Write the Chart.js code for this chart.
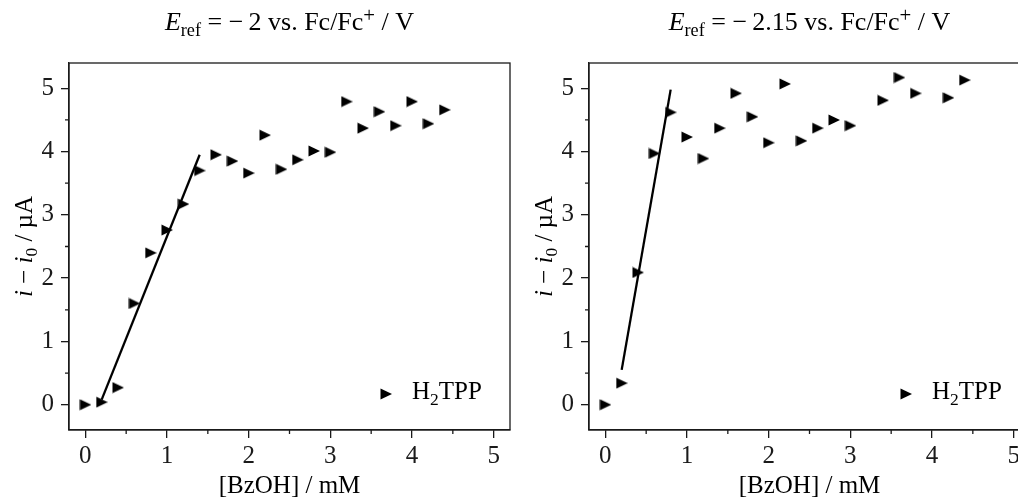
<!DOCTYPE html>
<html>
<head>
<meta charset="utf-8">
<script src="https://cdn.jsdelivr.net/npm/chart.js@4.4.0/dist/chart.umd.min.js"></script>
<style>
	html, body { margin: 0; padding: 0; background: #fff; overflow: hidden; }
	body { width: 1018px; height: 501px; position: relative; }
	.panel { position: absolute; top: 0; width: 520px; height: 501px; }
</style>
</head>
<body>
<div class="panel" style="left:0"><canvas id="chartLeft"></canvas></div>
<div class="panel" style="left:520px"><canvas id="chartRight"></canvas></div>
<script>
//[BzOH] in mM on the x axis, i - i0 in uA on the y axis
let concLeft = [0, 0.2, 0.4, 0.6, 0.8, 1.0, 1.2, 1.4, 1.6, 1.8, 2.0, 2.2, 2.4, 2.6, 2.8, 3.0, 3.2, 3.4, 3.6, 3.8, 4.0, 4.2, 4.4]
let currentLeft = [0, 0.04, 0.27, 1.6, 2.4, 2.76, 3.17, 3.7, 3.95, 3.85, 3.66, 4.26, 3.72, 3.87, 4.01, 3.99, 4.79, 4.37, 4.63, 4.41, 4.79, 4.44, 4.66]
let concRight = [0, 0.2, 0.4, 0.6, 0.8, 1.0, 1.2, 1.4, 1.6, 1.8, 2.0, 2.2, 2.4, 2.6, 2.8, 3.0, 3.4, 3.6, 3.8, 4.2, 4.4]
let currentRight = [0, 0.34, 2.09, 3.97, 4.62, 4.23, 3.89, 4.37, 4.92, 4.55, 4.14, 5.07, 4.17, 4.37, 4.5, 4.41, 4.81, 5.17, 4.92, 4.85, 5.13]

//linear fits (end points)
let fitLeftX = [0.2, 1.4]
let fitLeftY = [0.08, 3.95]
let fitRightX = [0.2, 0.8]
let fitRightY = [0.55, 4.98]

//tick labels
let xTicks = [0, 1, 2, 3, 4, 5]
let yTicks = [0, 1, 2, 3, 4, 5]
let xMinorTicks = [0.5, 1.5, 2.5, 3.5, 4.5]
let yMinorTicks = [0.5, 1.5, 2.5, 3.5, 4.5]

let seriesName = 'H₂TPP'
let fontFamily = "'Liberation Serif', 'Times New Roman', serif"
let ink = '#1a1a1a'

//right-pointing triangle marker, like the '>' marker
let marker = document.createElement('canvas')
marker.width = 12
marker.height = 12
let m = marker.getContext('2d')
m.beginPath()
m.moveTo(0.5, 0.5)
m.lineTo(12, 6)
m.lineTo(0.5, 11.5)
m.closePath()
m.fillStyle = '#000'
m.fill()

//draw text made of parts (italic, sub, sup)
function drawRich(ctx, parts, x, y, size, align) {
	let fonts = parts.map((p) => {
		let s = p.sub ? size * 0.7 : p.sup ? size * 0.8 : size
		return (p.it ? 'italic ' : '') + s + 'px ' + fontFamily
	})
	let widths = parts.map((p, i) => {
		ctx.font = fonts[i]
		return ctx.measureText(p.t).width
	})
	let total = widths.reduce((a, b) => a + b, 0)
	let cx = align === 'left' ? x : x - total / 2
	ctx.textAlign = 'left'
	ctx.textBaseline = 'alphabetic'
	ctx.fillStyle = '#000'
	parts.forEach((p, i) => {
		ctx.font = fonts[i]
		let dy = p.sub ? size * 0.22 : p.sup ? -size * 0.3 : 0
		ctx.fillText(p.t, cx, y + dy)
		cx += widths[i]
	})
}

let yLabelParts = [
	{ t: 'i', it: true },
	{ t: ' − ' },
	{ t: 'i', it: true },
	{ t: '0', sub: true },
	{ t: ' / µA' }
]
let legendParts = [{ t: 'H' }, { t: '2', sub: true }, { t: 'TPP' }]

//frame, minor ticks, title, y label and legend
let decorations = {
	id: 'decorations',
	afterDraw(chart, args, opts) {
		let ctx = chart.ctx
		let a = chart.chartArea
		let xs = chart.scales.x
		let ys = chart.scales.y
		ctx.save()
		ctx.strokeStyle = ink
		ctx.lineWidth = 1.3
		ctx.strokeRect(a.left, a.top, a.right - a.left, a.bottom - a.top)
		ctx.beginPath()
		xMinorTicks.forEach((v) => {
			let px = xs.getPixelForValue(v)
			ctx.moveTo(px, a.bottom)
			ctx.lineTo(px, a.bottom + 4)
		})
		yMinorTicks.forEach((v) => {
			let py = ys.getPixelForValue(v)
			ctx.moveTo(a.left, py)
			ctx.lineTo(a.left - 4, py)
		})
		ctx.stroke()

		drawRich(ctx, opts.title, (a.left + a.right) / 2, 30, 26, 'center')

		ctx.save()
		ctx.translate(31.5, (a.top + a.bottom) / 2)
		ctx.rotate(-Math.PI / 2)
		drawRich(ctx, yLabelParts, 0, 0, 25, 'center')
		ctx.restore()

		let lx = a.left + 317
		let ly = a.bottom - 36
		ctx.drawImage(marker, lx - 6, ly - 6)
		drawRich(ctx, legendParts, lx + 26, a.bottom - 31, 25, 'left')
		ctx.restore()
	}
}

function makeConfig(conc, current, fitX, fitY, titleParts) {
	return {
		type: 'scatter',
		data: {
			datasets: [
				{
					label: seriesName,
					data: conc.map((x, i) => ({ x: x, y: current[i] })),
					pointStyle: marker,
					pointRadius: 6,
					backgroundColor: '#000',
					borderColor: '#000'
				},
				{
					label: 'fit',
					data: fitX.map((x, i) => ({ x: x, y: fitY[i] })),
					showLine: true,
					pointRadius: 0,
					borderColor: '#000',
					borderWidth: 2.3
				}
			]
		},
		options: {
			responsive: true,
			maintainAspectRatio: false,
			animation: false,
			layout: { padding: { top: 63, right: 10, left: 0, bottom: 0 } },
			plugins: {
				legend: { display: false },
				tooltip: { enabled: false },
				decorations: { title: titleParts }
			},
			scales: {
				x: {
					type: 'linear',
					min: -0.2,
					max: 5.2,
					afterBuildTicks: (scale) => {
						scale.ticks = xTicks.map((v) => ({ value: v }))
					},
					afterFit: (scale) => {
						scale.height = 71
					},
					grid: { drawOnChartArea: false, tickLength: 8, color: ink, lineWidth: 1.3 },
					border: { color: ink, width: 1.3 },
					ticks: { color: ink, padding: 3, font: { family: fontFamily, size: 25 } },
					title: {
						display: true,
						text: '[BzOH] / mM',
						color: '#000',
						padding: { top: 0, bottom: 0 },
						font: { family: fontFamily, size: 25 }
					}
				},
				y: {
					type: 'linear',
					min: -0.4,
					max: 5.4,
					afterBuildTicks: (scale) => {
						scale.ticks = yTicks.map((v) => ({ value: v }))
					},
					afterFit: (scale) => {
						scale.width = 69
					},
					grid: { drawOnChartArea: false, tickLength: 8, color: ink, lineWidth: 1.3 },
					border: { color: ink, width: 1.3 },
					ticks: { color: ink, padding: 7, font: { family: fontFamily, size: 25 } }
				}
			}
		},
		plugins: [decorations]
	}
}

let titleLeft = [
	{ t: 'E', it: true },
	{ t: 'ref', sub: true },
	{ t: ' = −\u20092 vs. Fc/Fc' },
	{ t: '+', sup: true },
	{ t: ' / V' }
]
let titleRight = [
	{ t: 'E', it: true },
	{ t: 'ref', sub: true },
	{ t: ' = −\u20092.15 vs. Fc/Fc' },
	{ t: '+', sup: true },
	{ t: ' / V' }
]

new Chart(document.getElementById('chartLeft'), makeConfig(concLeft, currentLeft, fitLeftX, fitLeftY, titleLeft))
new Chart(document.getElementById('chartRight'), makeConfig(concRight, currentRight, fitRightX, fitRightY, titleRight))
</script>
</body>
</html>
